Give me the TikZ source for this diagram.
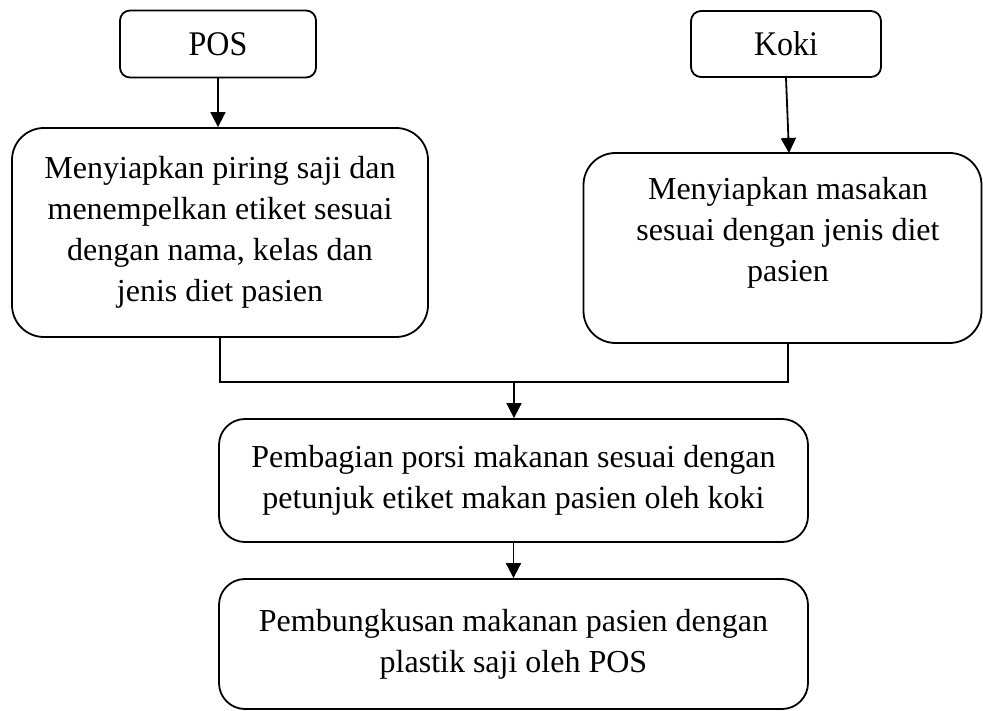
\documentclass[tikz,border=0pt]{standalone}
\usepackage{fontspec}
\setmainfont{Liberation Serif}
\usetikzlibrary{arrows.meta}
\begin{document}
\begin{tikzpicture}[x=1pt,y=-1pt,
  every node/.style={inner sep=0pt, font=\fontsize{32}{41}\selectfont},
  box/.style={draw, line width=1.8pt, align=center},
  conn/.style={line width=1.8pt},
  arr/.style={conn, -{Triangle[length=15pt,width=15pt]}}]
\useasboundingbox (0,0) rectangle (983,711);
% top boxes
\node[box, rounded corners=10pt, minimum width=196pt, minimum height=67pt] (pos) at (218,44) {\scalebox{1}[1.08]{POS}};
\node[box, rounded corners=10pt, minimum width=190pt, minimum height=66pt] (koki) at (786,44) {\scalebox{1}[1.08]{Koki}};
% box 1
\node[box, rounded corners=32pt, minimum width=416pt, minimum height=209pt] (b1) at (220,232.5)
  {Menyiapkan piring saji dan\\menempelkan etiket sesuai\\dengan nama, kelas dan\\jenis diet pasien};
% box 2
\node[box, rounded corners=32pt, minimum width=398pt, minimum height=190pt] (b2) at (782.5,248) {};
\node[align=center] (t2) at (788,233) {Menyiapkan masakan\\sesuai dengan jenis diet\\pasien};
% box 3 and 4
\node[box, rounded corners=26pt, minimum width=589pt, minimum height=123pt] (b3) at (513.5,480.5)
  {Pembagian porsi makanan sesuai dengan\\petunjuk etiket makan pasien oleh koki};
\node[box, rounded corners=26pt, minimum width=589pt, minimum height=130pt] (b4) at (513.5,644)
  {Pembungkusan makanan pasien dengan\\plastik saji oleh POS};
% connectors
\coordinate (k2) at (789,153);
\coordinate (j1) at (220,382);
\coordinate (j2) at (788,382);
\coordinate (jm) at (514,382);
\draw[arr] (pos.south) -- (pos.south |- b1.north);
\draw[arr] (koki.south) -- (k2);
\draw[conn] (b1.south) -- (j1) -- (j2) -- (j2 |- b2.south);
\draw[arr] (jm) -- (jm |- b3.north);
\draw[arr] (b3.south) -- (b4.north);
\end{tikzpicture}
\end{document}
